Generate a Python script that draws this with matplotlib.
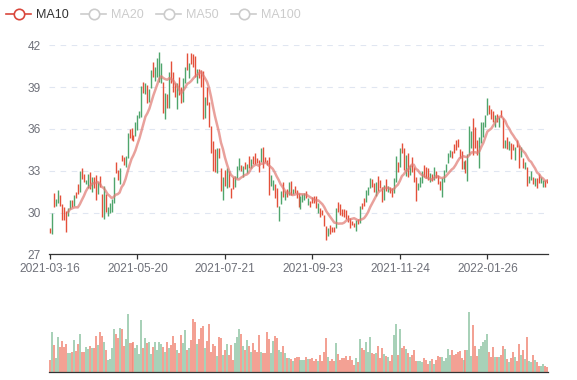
import numpy as np
import pandas as pd
import matplotlib
matplotlib.use("Agg")
import matplotlib.pyplot as plt
from matplotlib.lines import Line2D

plt.rcParams['font.family'] = ['Liberation Sans', 'DejaVu Sans']

# ---------------- data ----------------
date_labels = ["2021-03-16", "2021-05-20", "2021-07-21", "2021-09-23", "2021-11-24", "2022-01-26"]
label_step = 44

open_ = [
    28.85, 28.6, 31.3, 30.55, 30.75, 31.15, 30.5, 30.2, 29.9, 29.8,
    30.35, 30.85, 30.6, 31.4, 31.9, 31.6, 33.1, 32.7, 32.05, 31.9,
    32.8, 31.6, 32.5, 32.5, 31.4, 32.6, 31.2, 29.7, 31.2, 29.8,
    30.0, 30.1, 30.8, 33.5, 33.0, 32.2, 34.1, 33.9, 33.4, 34.0,
    35.9, 35.95, 35.5, 35.6, 36.0, 36.85, 37.0, 39.3, 38.6, 39.0,
    38.0, 39.1, 40.7, 39.6, 39.9, 39.6, 39.4, 39.2, 36.9, 38.4,
    37.6, 40.8, 40.0, 39.2, 37.55, 39.6, 38.95, 38.0, 39.4, 41.3,
    39.8, 41.4, 41.3, 41.1, 39.4, 40.2, 40.1, 40.0, 36.95, 38.9,
    37.8, 36.1, 35.0, 34.4, 33.0, 34.55, 33.0, 31.1, 32.95, 31.9,
    32.9, 31.7, 32.5, 31.95, 32.55, 33.15, 33.35, 32.6, 33.6, 32.95,
    34.0, 33.3, 34.0, 34.15, 33.9, 33.7, 33.7, 34.6, 33.95, 33.75,
    33.8, 32.0, 31.7, 31.95, 31.6, 29.6, 30.7, 32.05, 31.0, 31.6,
    31.35, 32.2, 31.38, 31.85, 31.55, 31.3, 30.4, 30.8, 30.95, 31.5,
    30.6, 30.8, 31.1, 31.1, 31.1, 30.1, 30.2, 30.15, 29.75, 28.9,
    28.4, 29.0, 28.95, 28.95, 29.0, 30.7, 30.5, 30.2, 30.15, 30.1,
    29.75, 29.5, 29.35, 29.2, 28.8, 29.5, 29.3, 30.65, 30.95, 30.85,
    31.35, 31.8, 32.3, 32.0, 31.3, 32.5, 32.25, 31.75, 31.0, 32.3,
    31.55, 31.8, 31.7, 31.45, 32.35, 33.55, 33.4, 34.9, 34.5, 32.75,
    34.2, 32.75, 33.9, 33.15, 32.45, 31.65, 31.9, 32.2, 33.35, 33.2,
    33.1, 32.3, 32.7, 32.4, 32.9, 32.6, 32.2, 31.25, 32.3, 32.95,
    33.6, 34.0, 34.35, 34.85, 35.1, 35.2, 34.5, 34.3, 33.2, 33.7,
    32.4, 34.3, 34.7, 36.6, 36.0, 35.1, 33.3, 35.1, 35.55, 36.2,
    37.1, 37.65, 37.35, 37.2, 36.2, 37.0, 36.2, 37.3, 36.6, 34.7,
    35.35, 34.55, 34.9, 34.85, 33.85, 35.15, 34.75, 34.1, 33.8, 33.2,
    33.2, 32.15, 32.4, 32.5, 32.0, 32.4, 32.7, 32.15, 31.9, 32.3, 32.35,
]

close = [
    28.6, 29.9, 30.5, 30.9, 31.5, 30.55, 29.5, 29.5, 28.9, 30.2,
    30.8, 30.5, 31.2, 31.1, 31.4, 32.8, 32.5, 32.3, 32.3, 32.7,
    31.8, 32.4, 31.8, 31.2, 32.1, 31.9, 29.9, 31.5, 30.2, 30.3,
    30.6, 30.9, 32.4, 33.0, 32.4, 33.1, 33.75, 33.5, 34.0, 35.5,
    35.45, 35.3, 35.2, 36.4, 36.9, 37.25, 38.9, 38.7, 39.2, 38.0,
    38.7, 40.1, 39.9, 40.4, 40.9, 41.3, 40.6, 37.4, 38.4, 37.6,
    39.8, 39.5, 38.8, 38.35, 39.1, 38.55, 38.0, 39.5, 40.35, 40.35,
    40.6, 40.75, 40.55, 39.9, 40.2, 39.7, 39.15, 37.0, 38.1, 37.85,
    36.3, 34.4, 33.2, 33.1, 34.4, 34.0, 31.8, 32.4, 32.05, 33.0,
    32.0, 31.15, 31.75, 32.5, 33.25, 33.8, 33.05, 33.25, 33.15, 33.4,
    33.25, 33.75, 33.55, 33.55, 33.6, 33.0, 34.5, 33.3, 33.65, 33.45,
    31.5, 32.6, 32.25, 31.15, 30.6, 30.4, 31.45, 31.25, 31.45, 31.2,
    32.05, 31.35, 31.6, 31.45, 31.1, 30.55, 31.1, 31.25, 31.3, 31.1,
    30.95, 30.5, 30.7, 30.75, 30.4, 30.6, 29.8, 29.85, 29.15, 28.2,
    28.8, 28.55, 28.7, 28.7, 30.15, 30.1, 29.9, 29.85, 29.8, 29.6,
    29.4, 28.95, 29.15, 29.0, 29.4, 29.2, 30.4, 30.3, 30.55, 31.5,
    31.8, 32.4, 31.9, 31.6, 32.1, 31.7, 31.8, 30.9, 31.85, 31.65,
    31.9, 31.45, 31.2, 32.35, 33.9, 33.0, 34.5, 34.3, 33.2, 34.0,
    32.7, 33.35, 33.0, 32.3, 31.0, 32.1, 32.45, 32.9, 32.65, 32.55,
    32.45, 32.8, 32.35, 33.15, 32.5, 32.15, 31.7, 32.4, 32.95, 33.4,
    34.15, 34.4, 33.95, 34.3, 34.6, 34.8, 33.95, 33.2, 33.65, 32.9,
    34.0, 36.0, 35.75, 34.3, 34.7, 34.25, 35.3, 36.4, 36.45, 36.9,
    38.05, 37.15, 36.8, 36.55, 36.9, 36.6, 36.8, 36.9, 34.8, 35.1,
    34.65, 35.1, 33.95, 34.55, 34.65, 34.8, 33.3, 34.65, 33.3, 33.6,
    32.05, 32.55, 32.9, 32.1, 32.45, 31.8, 32.2, 32.45, 32.3, 31.9, 32.2,
]

low = [
    28.51, 28.46, 30.42, 30.49, 30.66, 30.49, 29.44, 29.44, 28.63, 29.75,
    30.28, 30.42, 30.49, 31.04, 31.33, 31.50, 32.38, 32.21, 32.02, 31.78,
    31.69, 31.45, 31.74, 30.90, 31.33, 31.81, 29.65, 29.53, 30.01, 29.75,
    29.94, 30.06, 30.66, 32.86, 32.33, 32.05, 33.70, 33.41, 33.29, 33.89,
    35.37, 35.20, 35.13, 35.49, 35.92, 36.81, 36.88, 38.60, 38.51, 37.88,
    37.91, 38.96, 39.75, 39.46, 39.73, 39.39, 39.27, 37.12, 36.71, 37.48,
    37.48, 39.27, 38.67, 38.27, 37.40, 38.43, 37.88, 37.91, 39.27, 40.23,
    39.68, 40.66, 40.47, 39.75, 39.27, 39.63, 39.03, 36.71, 36.81, 37.72,
    36.16, 34.25, 32.98, 32.93, 32.81, 33.89, 31.57, 30.90, 31.93, 31.74,
    31.86, 31.07, 31.66, 31.86, 32.45, 33.05, 32.98, 32.52, 33.10, 32.86,
    33.17, 33.22, 33.48, 33.46, 33.53, 32.93, 33.60, 33.17, 33.60, 33.41,
    31.26, 31.90, 31.62, 31.02, 30.42, 29.42, 30.61, 31.14, 30.90, 31.14,
    31.26, 31.26, 31.33, 31.38, 31.02, 30.42, 30.28, 30.73, 30.90, 31.02,
    30.54, 30.42, 30.66, 30.66, 30.30, 29.99, 29.70, 29.82, 29.03, 28.03,
    28.34, 28.46, 28.63, 28.63, 28.87, 30.01, 29.82, 29.77, 29.70, 29.51,
    29.34, 28.87, 29.10, 28.94, 28.70, 29.18, 29.22, 30.23, 30.49, 30.78,
    31.26, 31.74, 31.81, 31.50, 31.21, 31.57, 31.74, 30.78, 30.90, 31.57,
    31.50, 31.38, 31.14, 31.38, 32.21, 32.93, 33.29, 34.25, 33.05, 32.62,
    32.53, 32.69, 32.93, 32.21, 30.85, 31.62, 31.86, 32.14, 32.57, 32.45,
    32.33, 32.21, 32.29, 32.33, 32.45, 32.05, 31.62, 31.09, 32.21, 32.88,
    33.53, 33.96, 33.89, 34.25, 34.49, 34.73, 33.89, 33.10, 33.12, 32.81,
    32.29, 34.13, 34.61, 34.13, 34.61, 34.13, 33.17, 34.97, 35.44, 36.11,
    37.00, 37.07, 36.71, 36.47, 36.11, 36.52, 36.11, 36.83, 34.61, 34.61,
    34.56, 34.49, 33.84, 34.49, 33.77, 34.73, 33.17, 34.01, 33.22, 33.12,
    31.93, 32.09, 32.33, 32.05, 31.93, 31.74, 32.14, 32.09, 31.86, 31.86, 32.14,
]

high = [
    28.91, 29.99, 31.38, 30.97, 31.62, 31.23, 30.61, 30.37, 30.09, 30.30,
    30.87, 30.92, 31.26, 31.45, 32.02, 32.98, 33.20, 32.76, 32.33, 32.76,
    32.91, 32.52, 32.57, 32.69, 32.21, 32.64, 31.30, 31.93, 31.33, 30.37,
    30.66, 30.99, 32.57, 33.60, 33.05, 33.22, 34.13, 33.96, 34.06, 35.68,
    35.97, 36.04, 35.56, 36.52, 37.00, 37.29, 39.08, 39.37, 39.27, 39.15,
    38.84, 40.23, 40.78, 40.47, 41.06, 41.54, 40.71, 39.39, 38.60, 38.48,
    40.06, 40.90, 40.11, 39.27, 39.27, 39.75, 39.03, 39.63, 40.47, 41.42,
    40.71, 41.47, 41.38, 41.23, 40.27, 40.27, 40.23, 40.18, 38.31, 39.03,
    37.91, 36.21, 35.13, 34.56, 34.61, 34.61, 33.17, 32.57, 33.05, 33.17,
    32.98, 31.74, 32.57, 32.62, 33.34, 33.89, 33.41, 33.34, 33.65, 33.48,
    34.08, 33.82, 34.06, 34.25, 33.94, 33.77, 34.61, 34.68, 34.01, 33.77,
    33.96, 32.69, 32.33, 32.05, 31.74, 30.49, 31.54, 32.17, 31.54, 31.66,
    32.17, 32.29, 31.66, 31.93, 31.62, 31.38, 31.19, 31.30, 31.38, 31.57,
    31.02, 30.83, 31.14, 31.19, 31.19, 30.71, 30.30, 30.18, 29.82, 29.03,
    28.87, 29.10, 28.98, 28.98, 30.30, 30.78, 30.59, 30.23, 30.23, 30.18,
    29.82, 29.58, 29.39, 29.27, 29.46, 29.53, 30.47, 30.71, 31.02, 31.62,
    31.86, 32.50, 32.38, 32.09, 32.21, 32.62, 32.33, 31.86, 31.97, 32.38,
    31.93, 31.86, 31.78, 32.45, 34.06, 33.65, 34.61, 34.96, 34.61, 34.13,
    34.30, 33.41, 33.96, 33.24, 32.57, 32.14, 32.52, 32.98, 33.41, 33.29,
    33.17, 32.86, 32.74, 33.24, 32.98, 32.69, 32.29, 32.50, 33.05, 33.48,
    34.25, 34.49, 34.41, 34.92, 35.20, 35.25, 34.56, 34.41, 33.70, 33.77,
    34.20, 36.21, 35.87, 36.76, 36.11, 35.20, 35.44, 36.52, 36.52, 37.00,
    38.19, 37.72, 37.43, 37.31, 37.00, 37.07, 36.88, 37.36, 36.76, 35.20,
    35.44, 35.16, 35.01, 34.92, 34.73, 35.20, 34.85, 34.73, 33.89, 33.65,
    33.29, 32.62, 32.98, 32.57, 32.50, 32.45, 32.76, 32.52, 32.33, 32.33, 32.38,
]

volume = [
    12, 40, 27, 14, 35, 25, 31, 25, 28, 19,
    19, 20, 32, 21, 28, 38, 20, 20, 25, 23,
    26, 24, 24, 36, 27, 40, 36, 30, 22, 12,
    13, 24, 43, 38, 34, 44, 43, 26, 33, 58,
    29, 29, 30, 24, 27, 18, 52, 24, 34, 29,
    30, 18, 25, 30, 22, 30, 28, 25, 20, 30,
    24, 27, 36, 29, 22, 19, 37, 29, 42, 22,
    24, 32, 53, 50, 28, 33, 44, 46, 24, 31,
    48, 20, 28, 26, 16, 35, 34, 17, 22, 28,
    17, 27, 12, 29, 35, 43, 38, 26, 22, 32,
    26, 20, 29, 22, 20, 37, 20, 19, 19, 40,
    33, 19, 31, 36, 34, 22, 20, 26, 19, 14,
    14, 13, 11, 14, 15, 15, 12, 12, 12, 15,
    13, 13, 14, 11, 13, 11, 17, 11, 20, 34,
    15, 11, 13, 11, 29, 18, 12, 14, 14, 16,
    12, 16, 12, 7, 14, 10, 33, 24, 22, 30,
    20, 35, 19, 18, 19, 26, 14, 24, 18, 16,
    15, 11, 17, 37, 48, 17, 43, 24, 26, 23,
    19, 15, 17, 22, 11, 11, 11, 10, 14, 12,
    8, 11, 13, 8, 12, 16, 15, 15, 11, 14,
    23, 17, 22, 17, 18, 20, 21, 14, 12, 22,
    22, 60, 16, 47, 26, 16, 23, 26, 30, 32,
    38, 20, 15, 25, 15, 15, 15, 17, 26, 23,
    13, 10, 14, 20, 15, 11, 28, 17, 22, 13,
    35, 11, 10, 17, 12, 10, 6, 6, 8, 6, 5,
]

legend_names = ["MA10", "MA20", "MA50", "MA100"]

# ---------------- styling ----------------
UP = '#4fa56c'
DOWN = '#e4503a'
UP_LIGHT = '#93c6a6'
DOWN_LIGHT = '#f08a79'
MA_COLOR = '#e07a72'

W, H = 577, 380
fig = plt.figure(figsize=(W / 100, H / 100), dpi=100)

o = np.array(open_)
c = np.array(close)
lo = np.array(low)
hi = np.array(high)
vol = np.array(volume)
n = len(c)
x = np.arange(n)
up = c >= o
cols = np.where(up, UP, DOWN)

# main candlestick axes
ax = fig.add_axes([49 / W, 1 - 254.3 / H, 499 / W, 209 / H])
ax.set_xlim(-0.5, n - 0.5)
ax.set_ylim(27, 42)
ax.set_yticks(np.arange(27, 43, 3))
ax.grid(axis='y', color='#e0e6f1', linestyle=(0, (5, 5)), linewidth=0.8)
ax.set_axisbelow(True)
for s in ['top', 'right', 'left']:
    ax.spines[s].set_visible(False)
ax.spines['bottom'].set_color('#333333')
ax.spines['bottom'].set_linewidth(0.9)

# wicks and bodies: at this density both merge into one thin stroke
ax.vlines(x, lo, hi, colors=cols, linewidth=1.0, zorder=3)

ma10 = pd.Series(c).rolling(10).mean()
ax.plot(x, ma10, color=MA_COLOR, alpha=0.7, linewidth=1.8, zorder=4,
        solid_joinstyle='round', solid_capstyle='round')

tick_idx = [k * label_step for k in range(len(date_labels))]
ax.set_xticks(tick_idx)
ax.set_xticklabels(date_labels)
ax.tick_params(axis='x', length=3.6, width=0.9, color='#333333', labelcolor='#6e7079',
               labelsize=8.6, pad=2.5)
ax.tick_params(axis='y', length=0, labelcolor='#6e7079', labelsize=8.6, pad=6)

# volume axes
axv = fig.add_axes([49 / W, 1 - 372 / H, 499 / W, 62 / H])
axv.set_xlim(-0.5, n - 0.5)
axv.set_ylim(0, 62)
vcols = np.where(up, UP_LIGHT, DOWN_LIGHT)
axv.vlines(x, 0, vol, colors=vcols, linewidth=1.15)
for s in ['top', 'right', 'left']:
    axv.spines[s].set_visible(False)
axv.spines['bottom'].set_color('#333333')
axv.spines['bottom'].set_linewidth(0.9)
axv.set_xticks([])
axv.set_yticks([])

# legend (drawn in pixel space overlay)
lg = fig.add_axes([0, 0, 1, 1])
lg.set_xlim(0, W)
lg.set_ylim(H, 0)
lg.axis('off')
legend_x = [6, 81, 156, 231]
for k, (name, lx) in enumerate(zip(legend_names, legend_x)):
    active = (k == 0)
    col = '#d9473c' if active else '#cccccc'
    tcol = '#333333' if active else '#cccccc'
    lg.add_line(Line2D([lx, lx + 25], [14, 14], color=col, linewidth=1.2))
    lg.plot([lx + 12.5], [14], marker='o', markersize=7.5, markerfacecolor='white',
            markeredgecolor=col, markeredgewidth=1.2)
    lg.text(lx + 30, 14.5, name, color=tcol, fontsize=9, va='center', ha='left')

fig.savefig('out.png', dpi=100)
